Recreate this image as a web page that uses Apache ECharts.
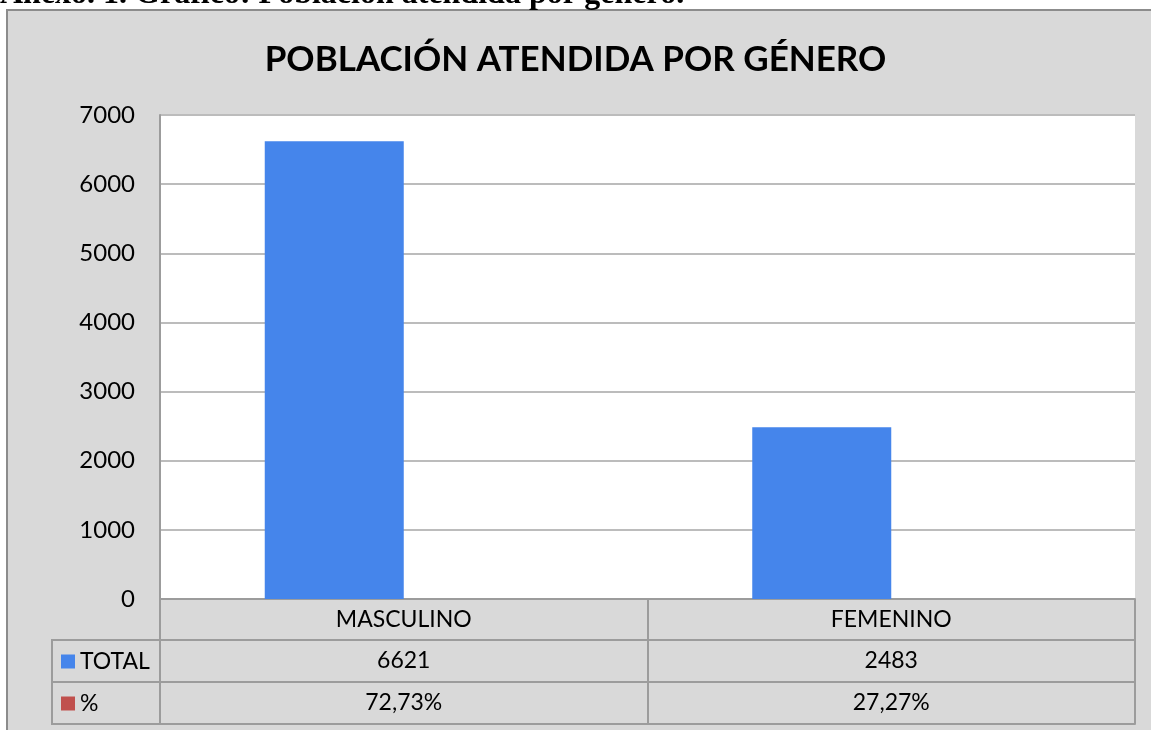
<!DOCTYPE html>
<html>
<head>
<meta charset="utf-8">
<script src="https://cdn.jsdelivr.net/npm/echarts@6/dist/echarts.min.js"></script>
<style>
  html, body { margin: 0; padding: 0; background: #fff; overflow: hidden; }
  #box {
    position: absolute; left: 6px; top: 9px; width: 1300px; height: 900px;
    background: #d9d9d9; border: 2px solid #8c8c8c;
  }
  #heading {
    position: absolute; left: 0; top: -26px; line-height: 32px; white-space: nowrap;
    font: bold 32px "Liberation Serif", serif; color: #000; z-index: 2;
  }
  #chart { position: absolute; left: 0; top: 0; width: 1151px; height: 730px; }
</style>
</head>
<body>
<div id="box"></div>
<div id="heading">Anexo. 1. Gráfico: Población atendida por género.</div>
<div id="chart"></div>
<script>
const categories = ['MASCULINO', 'FEMENINO'];
const totals = [6621, 2483];
const shares = [0.7273, 0.2727];
const seriesNames = ['TOTAL', '%'];
const yTicks = { min: 0, max: 7000, interval: 1000 };

const font = 'Lato';
const lineGray = '#9c9c9c';
const pctLabel = v => (v * 100).toFixed(2).replace('.', ',') + '%';

const chart = echarts.init(document.getElementById('chart'));

// one x axis per table row, stacked below the plot with offsets
function tableAxis(data, offset, showLabels, showTicks) {
  return {
    type: 'category',
    data,
    position: 'bottom',
    offset,
    axisLine: { show: true, lineStyle: { color: lineGray, width: 2 } },
    axisTick: { show: showTicks, length: 42, lineStyle: { color: lineGray, width: 2 } },
    axisLabel: {
      show: showLabels, interval: 0, margin: 21, verticalAlign: 'middle',
      color: '#000', fontFamily: font, fontSize: 23
    },
    splitLine: { show: false }
  };
}

const option = {
  backgroundColor: 'transparent',
  animation: false,
  title: {
    text: 'POBLACIÓN ATENDIDA POR GÉNERO',
    left: 'center',
    top: 37,
    textStyle: { fontFamily: font, fontWeight: 'bold', fontSize: 35, color: '#000' }
  },
  legend: seriesNames.map((name, i) => ({
    data: [name],
    left: 61,
    top: 650 + i * 42,
    padding: 0,
    icon: 'rect',
    itemWidth: 14,
    itemHeight: 14,
    selectedMode: false,
    textStyle: { fontFamily: font, fontSize: 23, color: '#000' }
  })),
  grid: {
    left: 160, right: 16, top: 115, bottom: 131,
    show: true, backgroundColor: '#fff', borderWidth: 0
  },
  xAxis: [
    tableAxis(categories, 0, true, true),
    tableAxis(totals.map(String), 41, true, true),
    tableAxis(shares.map(pctLabel), 83, true, true),
    tableAxis(categories, 125, false, false)
  ],
  yAxis: {
    type: 'value',
    min: yTicks.min,
    max: yTicks.max,
    interval: yTicks.interval,
    axisLine: { show: true, lineStyle: { color: lineGray, width: 2 } },
    axisTick: { show: false },
    axisLabel: {
      margin: 25, color: '#000', fontFamily: font, fontSize: 24,
      formatter: v => String(v)
    },
    splitLine: { lineStyle: { color: '#bcbcbc', width: 2 } }
  },
  graphic: [
    {
      type: 'rect',
      shape: { x: 52, y: 640, width: 108, height: 84 },
      style: { fill: 'none', stroke: lineGray, lineWidth: 2 }
    },
    {
      type: 'line',
      shape: { x1: 52, y1: 682, x2: 160, y2: 682 },
      style: { stroke: lineGray, lineWidth: 2 }
    }
  ],
  series: [
    {
      name: seriesNames[0],
      type: 'bar',
      data: totals,
      barWidth: 139,
      barGap: '0%',
      itemStyle: { color: '#4585eb' }
    },
    {
      name: seriesNames[1],
      type: 'bar',
      data: shares,
      barWidth: 139,
      itemStyle: { color: '#c0504d' }
    }
  ]
};

chart.setOption(option);
</script>
</body>
</html>
